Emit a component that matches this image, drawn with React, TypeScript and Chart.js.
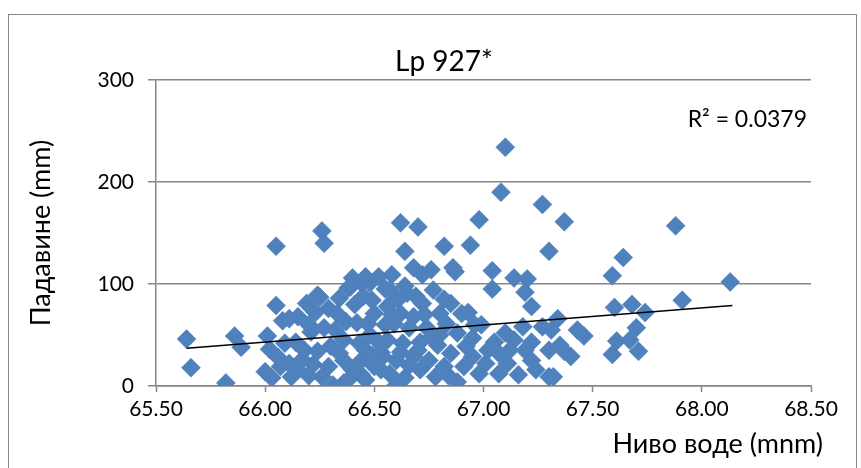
import React, { useEffect, useRef } from "react";
import { Chart, registerables } from "chart.js";

Chart.register(...registerables);

const chartTitle = "Lp 927*";
const xAxisTitle = "Ниво воде (mnm)";
const yAxisTitle = "Падавине (mm)";
const r2Label = "R² = 0.0379";

// Water level (mnm)
const waterLevel: number[] = [
  65.64, 65.66, 65.82, 66.05, 66.26, 66.27, 65.86, 65.89, 66.05, 66.08,
  66.25, 66.01, 66.03, 66.0, 66.02, 66.39, 66.44, 66.48, 66.36, 66.44,
  66.36, 66.07, 66.09, 66.4, 66.46, 66.52, 66.38, 66.24, 66.29, 66.19,
  66.15, 66.11, 66.33, 66.37, 66.49, 66.5, 66.47, 66.27, 66.21, 66.14,
  66.18, 66.24, 66.3, 66.43, 66.46, 66.52, 66.11, 66.15, 66.12, 66.22,
  66.26, 66.31, 66.29, 66.36, 66.4, 66.38, 66.46, 66.5, 66.53, 66.44,
  66.58, 66.72, 66.87, 66.57, 66.65, 66.77, 66.85, 66.9, 66.72, 66.56,
  66.62, 66.68, 66.8, 66.59, 66.66, 66.74, 66.83, 66.88, 66.56, 66.63,
  66.71, 66.79, 66.85, 66.92, 66.54, 66.6, 66.68, 66.75, 66.82, 66.57,
  66.64, 66.71, 66.78, 66.88, 66.6, 66.91, 67.04, 67.04, 67.14, 67.2,
  67.19, 67.22, 66.93, 66.99, 67.1, 67.18, 67.27, 66.95, 67.05, 67.14,
  67.22, 67.3, 66.95, 67.01, 67.07, 67.11, 67.22, 66.98, 67.07, 67.16,
  67.24, 67.3, 67.19, 67.59, 67.6, 67.68, 67.34, 67.43, 67.31, 67.35,
  67.4, 67.37, 67.32, 67.61, 67.67, 67.59, 67.71, 67.46, 67.88, 67.64,
  68.13, 67.91, 67.74, 67.7, 67.08, 67.1, 67.27, 67.37, 66.62, 66.7,
  66.98, 66.64, 66.82, 66.94, 67.3, 66.68, 66.76, 66.86,
  66.2, 66.23, 66.32, 66.34, 66.41, 66.45, 66.42, 66.48, 66.55, 66.55,
  66.61, 66.64, 66.69, 66.73, 66.76, 66.7, 66.66, 66.62, 66.53, 66.49,
  66.34, 66.2, 66.06, 66.17, 66.8, 66.84, 66.96, 67.02, 67.12, 66.58,
  66.82,
];

// Precipitation (mm)
const precipitation: number[] = [
  46, 18, 3, 137, 152, 140, 49, 38, 79, 64,
  87, 49, 8, 14, 36, 97, 101, 101, 3, 11,
  45, 19, 42, 106, 107, 107, 96, 89, 76, 81,
  68, 66, 71, 63, 84, 71, 61, 57, 53, 43,
  35, 34, 39, 42, 35, 43, 22, 16, 9, 21,
  9, 1, 19, 25, 16, 6, 6, 19, 16, 25,
  109, 109, 112, 94, 91, 94, 81, 71, 81, 78,
  71, 68, 71, 61, 57, 57, 61, 52, 45, 42,
  43, 40, 32, 39, 29, 25, 29, 25, 19, 12,
  8, 16, 9, 4, 1, 19, 95, 113, 106, 105,
  92, 78, 72, 60, 52, 58, 58, 47, 43, 45,
  43, 35, 29, 22, 32, 22, 25, 12, 12, 11,
  16, 9, 35, 108, 77, 80, 66, 55, 55, 40,
  29, 34, 9, 44, 45, 31, 34, 49, 157, 126,
  102, 84, 72, 57, 190, 234, 178, 161, 160, 156,
  163, 132, 137, 138, 132, 116, 114, 116,
  60, 72, 55, 86, 80, 88, 62, 50, 60, 95,
  85, 98, 88, 70, 48, 35, 20, 33, 33, 30,
  32, 10, 28, 26, 50, 10, 60, 35, 35, 70,
  85,
];

// Linear trendline endpoints
const trendX: number[] = [65.64, 68.14];
const trendY: number[] = [37, 79];

const xTicks: number[] = [65.5, 66.0, 66.5, 67.0, 67.5, 68.0, 68.5];
const yTicks: number[] = [0, 100, 200, 300];

const FONT = "Lato, 'Open Sans', sans-serif";
const GRID = "#868686";
const BLUE = "#4F81BD";

const textPlugin = {
  id: "excelTexts",
  afterDraw(chart: any) {
    const ctx = chart.ctx;
    const area = chart.chartArea;
    ctx.save();
    ctx.fillStyle = "#000";
    // title
    ctx.font = `28px ${FONT}`;
    ctx.textAlign = "center";
    ctx.textBaseline = "alphabetic";
    ctx.fillText(chartTitle, 444, 71);
    // R²
    ctx.font = `23px ${FONT}`;
    ctx.textAlign = "right";
    ctx.fillText(r2Label, 807, 127);
    // x title
    ctx.font = `27px ${FONT}`;
    ctx.textAlign = "right";
    ctx.fillText(xAxisTitle, 823, 453);
    // y title
    ctx.translate(50, (area.top + area.bottom) / 2);
    ctx.rotate(-Math.PI / 2);
    ctx.textAlign = "center";
    ctx.fillText(yAxisTitle, 0, 0);
    ctx.restore();
  },
};

export default function App() {
  const canvasRef = useRef<HTMLCanvasElement | null>(null);

  useEffect(() => {
    const canvas = canvasRef.current;
    if (!canvas) return;
    const points = waterLevel.map((x, i) => ({ x, y: precipitation[i] }));
    const trend = trendX.map((x, i) => ({ x, y: trendY[i] }));
    const chart = new Chart(canvas, {
      type: "scatter",
      data: {
        datasets: [
          {
            type: "line",
            label: "trend",
            data: trend,
            borderColor: "#000",
            borderWidth: 1.5,
            pointRadius: 0,
            showLine: true,
            fill: false,
            order: 0,
          } as any,
          {
            label: "data",
            data: points,
            pointStyle: "rectRot",
            pointRadius: 9.5,
            pointHoverRadius: 9.5,
            backgroundColor: BLUE,
            borderColor: "#4A7EBB",
            borderWidth: 0.5,
            order: 1,
          },
        ],
      },
      options: {
        responsive: false,
        animation: false,
        devicePixelRatio: 1,
        layout: { padding: { left: 0, right: 50, top: 80, bottom: 0 } },
        plugins: {
          legend: { display: false },
          tooltip: { enabled: false },
          title: { display: false },
        },
        scales: {
          x: {
            type: "linear",
            min: 65.5,
            max: 68.5,
            afterBuildTicks: (scale: any) => {
              scale.ticks = xTicks.map((v) => ({ value: v }));
            },
            afterFit: (scale: any) => {
              scale.height = 82;
            },
            ticks: {
              color: "#000",
              font: { family: FONT, size: 21 },
              padding: 5,
              maxRotation: 0,
              autoSkip: false,
              callback: (v: any) => Number(v).toFixed(2),
            },
            grid: {
              drawOnChartArea: false,
              drawTicks: true,
              tickLength: 6,
              tickColor: GRID,
              tickWidth: 1.5,
              color: GRID,
            },
            border: { display: true, color: GRID, width: 1.5 },
          },
          y: {
            type: "linear",
            min: 0,
            max: 300,
            afterBuildTicks: (scale: any) => {
              scale.ticks = yTicks.map((v) => ({ value: v }));
            },
            afterFit: (scale: any) => {
              scale.width = 156;
            },
            ticks: {
              color: "#000",
              font: { family: FONT, size: 21 },
              padding: 14,
              callback: (v: any) => String(v),
            },
            grid: {
              color: GRID,
              lineWidth: 1.5,
              drawTicks: true,
              tickLength: 8,
              tickColor: GRID,
            },
            border: { display: true, color: GRID, width: 1.5 },
          },
        },
      },
      plugins: [textPlugin],
    });
    return () => chart.destroy();
  }, []);

  return (
    <div style={{ position: "absolute", left: 0, top: 0, width: 861, height: 468, overflow: "hidden", background: "#fff" }}>
      <div
        style={{
          position: "absolute",
          left: 8,
          top: 14,
          width: 849,
          height: 470,
          border: "1px solid #868686",
          boxSizing: "border-box",
        }}
      />
      <canvas ref={canvasRef} width={861} height={468} style={{ position: "absolute", left: 0, top: 0, width: 861, height: 468 }} />
    </div>
  );
}
